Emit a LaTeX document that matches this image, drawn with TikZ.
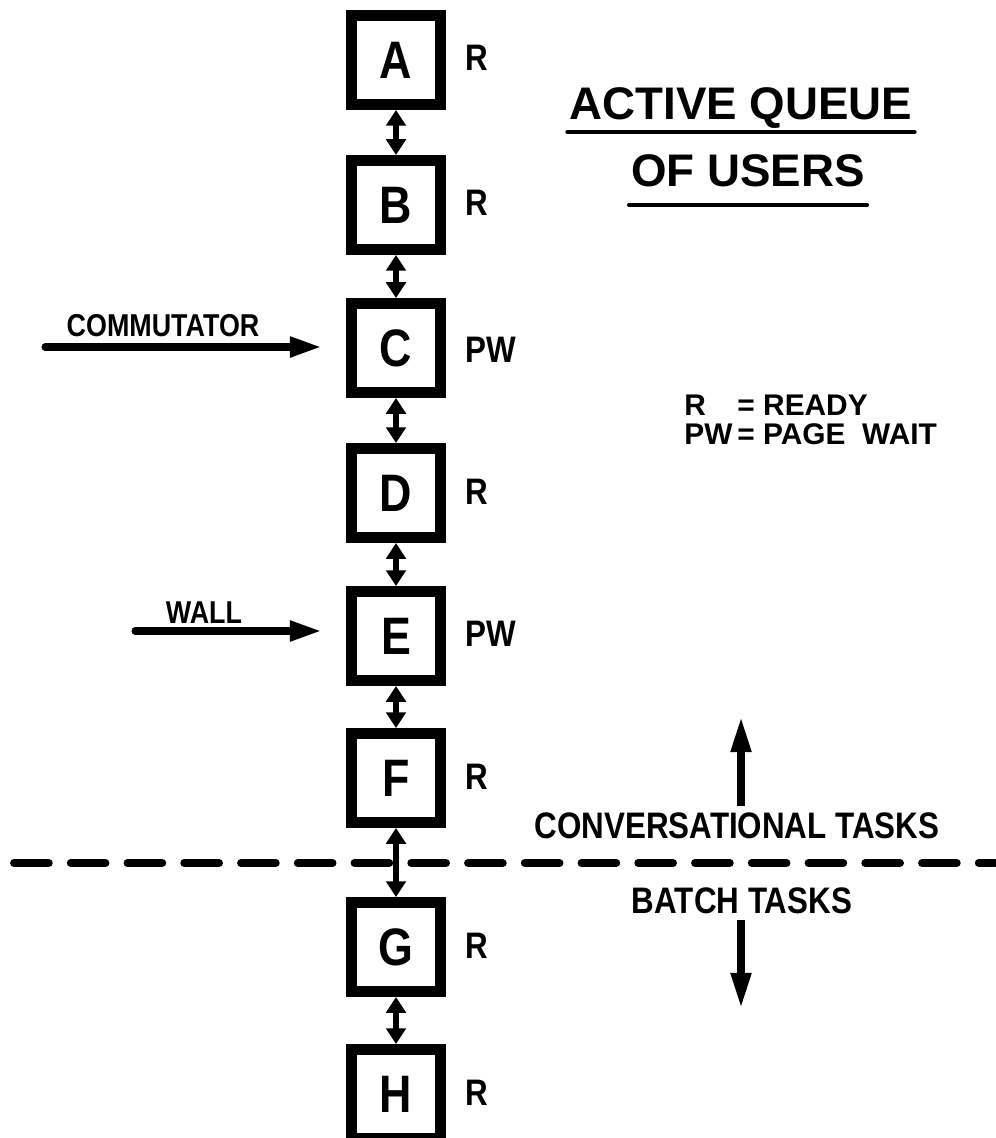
\documentclass[tikz,border=0pt]{standalone}
\usepackage{fontspec}
\setmainfont{Liberation Sans}[FakeStretch=0.85]
\newfontfamily\widefont{Liberation Sans}
\usetikzlibrary{arrows.meta}

\begin{document}
\begin{tikzpicture}[x=0.02cm,y=-0.02cm,
		usr/.style={draw,line width=6.2pt,minimum size=1.78cm,inner sep=0pt,font=\fontsize{30}{30}\selectfont\bfseries},
		tag/.style={anchor=west,inner sep=0pt,font=\fontsize{21}{21}\selectfont\bfseries},
		link/.style={line width=3.2pt,{Triangle[length=9pt,width=11pt]}-{Triangle[length=9pt,width=11pt]}},
		feed/.style={line width=4pt,line cap=round,-{Triangle[length=18pt,width=11pt]}},
		lbl/.style={anchor=base,inner sep=0pt,font=\fontsize{18}{18}\selectfont\bfseries},
		title/.style={anchor=base,inner xsep=1pt,inner ysep=0pt,font=\widefont\fontsize{26}{26}\selectfont\bfseries},
		uline/.style={line width=2.5pt,line cap=round},
		tasks/.style={anchor=base,font=\fontsize{21}{21}\selectfont\bfseries},
		way/.style={line width=4pt,-{Triangle[length=20pt,width=11pt]}},
		key/.style={anchor=west,inner sep=0pt,font=\widefont\fontsize{17}{16}\selectfont\bfseries}]
	\useasboundingbox (0,0) rectangle (995,1138);
	% the queue
	\node[usr] (A) at (396,60) {A};
	\node[usr] (B) at (396,205) {B};
	\node[usr] (C) at (396,348) {C};
	\node[usr] (D) at (396,493) {D};
	\node[usr] (E) at (396,636) {E};
	\node[usr] (F) at (396,778) {F};
	\node[usr] (G) at (396,947) {G};
	\node[usr] (H) at (396,1094) {H};
	\node[tag] (sA) at (465,58) {R};
	\node[tag] (sB) at (465,203) {R};
	\node[tag] (sC) at (465,350) {PW};
	\node[tag] (sD) at (465,492) {R};
	\node[tag] (sE) at (465,634) {PW};
	\node[tag] (sF) at (465,777) {R};
	\node[tag] (sG) at (465,946) {R};
	\node[tag] (sH) at (465,1093) {R};
	% divider
	\draw[line width=4.5pt,line cap=round,dash pattern=on 19.8pt off 12.5pt] (14,863) -- (995,863);
	\draw[link] (A) -- (B);
	\draw[link] (B) -- (C);
	\draw[link] (C) -- (D);
	\draw[link] (D) -- (E);
	\draw[link] (E) -- (F);
	\draw[link] (F) -- (G);
	\draw[link] (G) -- (H);
	% pointers
	\node[lbl] (comm) at (163,337) {COMMUTATOR};
	\coordinate (commtail) at (45,347);
	\draw[feed] (commtail) -- ([xshift=-14pt]commtail -| C.west);
	\node[lbl] (wall) at (204,623) {WALL};
	\coordinate (walltail) at (135,631);
	\draw[feed] (walltail) -- ([xshift=-14pt]walltail -| E.west);
	% title and legend
	\node[title] (ttl1) at (741,120) {ACTIVE QUEUE};
	\node[title] (ttl2) at (748,187) {OF USERS};
	\draw[uline] ([yshift=-6.8pt]ttl1.base west) -- ([yshift=-6.8pt]ttl1.base east);
	\draw[uline] ([yshift=-10.2pt]ttl2.base west) -- ([yshift=-10.2pt]ttl2.base east);
	\node[key] (legend) at (684,424) {\begin{tabular}{@{}l@{\,}l@{}}R&= READY\\PW&= PAGE\ \ WAIT\end{tabular}};
	% task classes
	\node[tasks] (conv) at (737,838) {CONVERSATIONAL TASKS};
	\node[tasks] (batch) at (742,913) {BATCH TASKS};
	\coordinate (uptip) at (741,717);
	\coordinate (downtip) at (741,1008);
	\draw[way] (conv.north -| uptip) -- (uptip);
	\draw[way] (batch.south -| downtip) -- (downtip);
\end{tikzpicture}
\end{document}
